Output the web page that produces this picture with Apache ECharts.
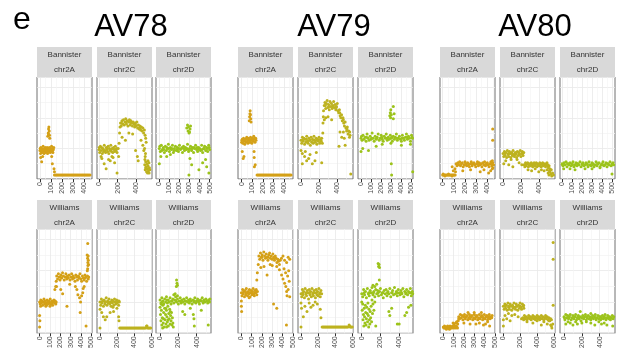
<!DOCTYPE html>
<html>
<head>
<meta charset="utf-8">
<script src="https://cdn.jsdelivr.net/npm/echarts@6/dist/echarts.min.js"></script>
<style>
  html, body { margin: 0; padding: 0; background: #fff; }
  #chart { width: 622px; height: 351px; }
</style>
</head>
<body>
<div id="chart"></div>
<script>
const FONT = '"Liberation Sans", Arial, sans-serif'

const cultivars = ['AV78', 'AV79', 'AV80']
const varieties = ['Bannister', 'Williams']
const chromosomes = ['chr2A', 'chr2C', 'chr2D']
const chromColors = ['#d4a017', '#bdb21f', '#9cc31b']

// tick labels
const ticks400 = [0, 100, 200, 300, 400]
const ticks500 = [0, 100, 200, 300, 400, 500]
const ticks400by200 = [0, 200, 400]
const ticks600by200 = [0, 200, 400, 600]

// x extents, order: AV78 2A,2C,2D, AV79 2A,2C,2D, AV80 2A,2C,2D
const xRangeBannister = [[-27, 468], [-22, 568], [-33, 513], [-34, 483], [-33, 577], [-30, 515], [-24, 469], [-34, 582], [-20, 530]]
const xRangeWilliams = [[-25, 505], [-35, 603], [-44, 556], [-33, 502], [-35, 605], [-40, 548], [-32, 502], [-40, 612], [-45, 571]]
const xTicksBannister = [ticks400, ticks400by200, ticks500, ticks400, ticks400by200, ticks500, ticks400, ticks400by200, ticks500]
const xTicksWilliams = [ticks500, ticks600by200, ticks400by200, ticks500, ticks600by200, ticks400by200, ticks500, ticks600by200, ticks400by200]

// points as flat x,y lists (y on a 0-100 relative scale)
const av78Bannister2A = [0,28, 5,25, 8,31, 12,27, 16,30, 20,26, 24,29, 28,32, 32,27, 36,25, 40,30, 44,28, 48,31, 52,26, 56,29, 60,27, 64,31, 68,25, 72,29, 76,30, 80,27, 84,31, 88,28, 92,26, 96,30, 100,28, 104,32, 108,27, 112,30, 116,26, 120,29, 124,31, 2,30, 18,28, 34,29, 50,28, 66,28, 82,29, 98,27, 114,28,
  70,42, 74,45, 77,49, 80,51, 83,47, 86,43, 88,40, 76,44,
  6,21, 15,17, 24,22, 105,22, 111,15, 126,10, 130,7,
  130,4, 140,4, 150,4, 160,4, 170,4, 180,4, 190,4, 200,4, 210,4, 220,4, 230,4, 240,4, 250,4, 260,4, 270,4, 280,4, 290,4, 300,4, 310,4, 320,4, 330,4, 340,4, 350,4, 360,4, 370,4, 380,4, 390,4, 400,4, 410,4, 420,4, 430,4, 440,4, 450,4]
const av78Bannister2C = [0,29, 7,26, 14,32, 21,28, 28,31, 35,25, 42,30, 49,27, 56,33, 63,28, 70,26, 77,31, 84,29, 91,27, 98,32, 105,25, 112,30, 119,28, 126,33, 133,27, 140,30, 147,26, 154,31, 161,29, 168,27, 175,32, 182,28, 189,30, 193,26, 3,31, 45,29, 88,30, 130,29, 172,29,
  22,22, 55,15, 76,10, 102,19, 138,22, 167,16, 193,6, 30,20, 120,18, 150,21,
  210,22, 215,35, 220,45, 225,51, 205,30,
  230,55, 238,52, 246,57, 254,54, 262,58, 270,53, 278,56, 286,59, 294,54, 302,57, 310,52, 318,56, 326,58, 334,53, 342,57, 350,55, 358,52, 366,56, 374,54, 382,51, 390,55, 398,52, 406,56, 414,50, 422,53, 430,49, 438,52, 446,48, 454,51, 462,47, 470,50, 478,45, 486,48, 494,43, 500,40, 505,36, 240,55, 290,56, 340,55, 390,53, 440,50,
  247,41, 283,38, 320,45, 360,44, 392,28, 411,22, 420,18, 450,38, 470,33, 488,30, 498,25, 480,28, 495,22,
  490,14, 495,9, 500,17, 505,12, 510,7, 515,15, 520,10, 525,13, 530,8, 535,16, 540,11, 545,9, 500,11, 512,10, 525,18, 537,6, 492,19, 520,6]
const av78Bannister2D = [0,30, 10,27, 20,33, 30,29, 40,31, 50,26, 60,32, 70,28, 80,30, 90,34, 100,27, 110,31, 120,29, 130,33, 140,26, 150,30, 160,32, 170,28, 180,31, 190,27, 200,33, 210,29, 220,30, 230,26, 240,32, 250,28, 260,31, 270,29, 280,34, 290,27, 300,30, 310,32, 320,28, 330,31, 340,26, 350,30, 360,33, 370,29, 380,27, 390,31, 400,30, 410,28, 420,33, 430,26, 440,30, 450,32, 460,28, 470,31, 480,27, 490,33, 500,29,
  5,32, 45,29, 95,30, 145,28, 195,30, 245,30, 295,29, 345,31, 395,29, 445,30, 495,31, 25,28, 75,31, 125,30, 175,29, 225,31, 275,30, 325,30, 375,31, 425,29, 475,30,
  272,50, 280,53, 285,47, 290,51, 295,45, 305,49, 310,52, 300,46,
  0,15, 73,22, 304,20, 321,14, 294,4, 393,9, 459,19, 492,6, 430,16, 15,22, 110,24, 470,12]
const av79Bannister2A = [0,36, 6,39, 12,35, 18,40, 24,37, 30,34, 36,39, 42,36, 48,41, 54,37, 60,35, 66,40, 72,38, 78,36, 84,41, 90,38, 96,35, 102,40, 108,37, 114,42, 120,39, 126,36, 132,40, 135,38, 3,38, 27,38, 51,39, 75,39, 99,38, 123,40,
  72,57, 75,61, 78,64, 80,67, 83,63, 86,59, 89,56,
  6,27, 15,20, 22,22, 117,27, 118,21, 120,12, 128,14,
  145,4, 155,4, 165,4, 175,4, 185,4, 195,4, 205,4, 215,4, 225,4, 235,4, 245,4, 255,4, 265,4, 275,4, 285,4, 295,4, 305,4, 315,4, 325,4, 335,4, 345,4, 355,4, 365,4, 375,4, 385,4, 395,4, 405,4, 415,4, 425,4, 435,4, 445,4, 455,4, 465,4]
const av79Bannister2C = [0,38, 8,35, 16,41, 24,37, 32,40, 40,34, 48,39, 56,36, 64,42, 72,37, 80,35, 88,40, 96,38, 104,33, 112,41, 120,36, 128,39, 136,35, 144,42, 152,38, 160,36, 168,40, 176,34, 184,39, 192,37, 200,41, 208,35, 216,39, 224,37, 230,40, 20,38, 60,39, 100,38, 140,38, 180,38, 220,38,
  0,28, 15,25, 48,27, 15,15, 63,18, 85,20, 100,24, 126,15, 155,18, 170,26, 230,16, 40,22,
  237,35, 244,55, 248,61, 242,45,
  250,67, 258,72, 266,75, 274,69, 282,74, 290,77, 298,70, 306,73, 314,68, 322,76, 330,71, 338,74, 346,69, 354,72, 362,76, 370,70, 378,73, 386,68, 394,71, 402,74, 410,67, 418,65, 426,68, 434,62, 442,60, 450,63, 458,57, 466,60, 474,55, 482,52, 490,56, 498,50, 506,47, 514,51, 522,44, 530,47, 538,41, 544,43, 270,72, 310,71, 350,71, 390,70, 430,65, 470,58, 510,49, 540,46,
  259,58, 275,60, 300,61, 340,58, 433,46, 452,41, 470,46, 422,32, 490,33, 552,5, 480,40]
const av79Bannister2D = [0,40, 10,38, 20,43, 30,39, 40,41, 50,37, 60,44, 70,40, 80,38, 90,42, 100,39, 110,45, 120,40, 130,37, 140,42, 150,39, 160,41, 170,44, 180,38, 190,40, 200,43, 210,39, 220,37, 230,42, 240,40, 250,44, 260,38, 270,41, 280,39, 290,43, 300,40, 310,37, 320,42, 330,39, 340,41, 350,44, 360,38, 370,40, 380,42, 390,39, 400,37, 410,43, 420,40, 430,38, 440,41, 450,44, 460,39, 470,42, 480,40, 490,37, 500,43, 510,40,
  5,42, 55,41, 105,40, 155,40, 205,41, 255,40, 305,41, 355,40, 405,40, 455,41, 505,41,
  285,62, 290,65, 295,68, 293,60, 320,71, 320,59, 328,64, 300,63,
  0,27, 17,30, 74,28, 150,32, 210,34, 296,35, 300,15, 303,4, 400,33, 490,34, 512,7]
const av80Bannister2A = [0,4, 8,4, 16,4, 24,4, 32,4, 40,4, 48,4, 56,4, 64,4, 72,4, 80,4, 88,4, 96,4, 104,4, 112,4, 4,5, 20,3, 52,5, 84,3,
  85,12, 95,8, 110,10, 115,7,
  120,15, 128,13, 136,16, 144,14, 152,17, 160,13, 168,15, 176,16, 184,12, 192,14, 200,17, 208,15, 216,13, 224,16, 232,14, 240,12, 248,15, 256,17, 264,13, 272,15, 280,16, 288,14, 296,12, 304,15, 312,17, 320,13, 328,16, 336,14, 344,15, 352,12, 360,16, 368,14, 376,17, 384,13, 392,15, 400,16, 408,14, 416,12, 424,15, 432,17, 440,13, 448,16, 456,14, 140,15, 200,14, 260,15, 320,15, 380,14, 440,15, 445,18, 450,11,
  180,8, 250,9, 336,7, 370,9, 412,6, 430,8, 445,10,
  448,49, 448,38]
const av80Bannister2C = [0,25, 8,22, 16,27, 24,23, 32,26, 40,21, 48,28, 56,24, 64,22, 72,27, 80,25, 88,21, 96,26, 104,23, 112,28, 120,24, 128,22, 136,26, 144,25, 152,21, 160,27, 168,23, 176,26, 184,24, 192,28, 200,22, 208,25, 216,27, 224,23, 232,26, 20,25, 60,25, 100,25, 140,24, 180,25, 220,25,
  8,15, 30,18, 64,14, 90,19, 110,12, 157,19, 180,16, 210,14,
  236,14, 244,12, 252,16, 260,13, 268,15, 276,16, 284,12, 292,14, 300,15, 308,13, 316,16, 324,14, 332,12, 340,15, 348,16, 356,13, 364,14, 372,16, 380,12, 388,15, 396,14, 404,13, 412,16, 420,14, 428,12, 436,15, 444,16, 452,13, 460,14, 468,15, 476,12, 484,14, 492,16, 500,13, 508,11, 516,13, 524,10, 250,14, 300,14, 350,14, 400,14, 450,14, 500,14,
  493,9, 505,6, 515,4, 525,7, 535,5, 545,3, 555,6, 565,4, 540,9, 520,8,
  280,9, 320,8, 360,10, 400,7, 430,9, 460,8]
const av80Bannister2D = [0,15, 10,13, 20,16, 30,14, 40,17, 50,12, 60,15, 70,14, 80,16, 90,13, 100,15, 110,17, 120,12, 130,14, 140,16, 150,13, 160,15, 170,14, 180,17, 190,12, 200,15, 210,16, 220,13, 230,14, 240,16, 250,15, 260,12, 270,17, 280,14, 290,13, 300,16, 310,15, 320,12, 330,14, 340,17, 350,13, 360,15, 370,16, 380,12, 390,14, 400,15, 410,17, 420,13, 430,14, 440,16, 450,12, 460,15, 470,14, 480,17, 490,13, 500,15, 510,16, 517,14,
  5,14, 55,15, 105,14, 155,15, 205,14, 255,14, 305,14, 355,15, 405,14, 455,15, 505,14,
  17,10, 80,10, 130,9, 230,10, 300,10, 380,11, 500,5]

const av78Williams2A = [0,30, 6,28, 12,32, 18,29, 24,31, 30,27, 36,30, 42,33, 48,28, 54,31, 60,29, 66,27, 72,32, 78,30, 84,28, 90,31, 96,29, 102,33, 108,28, 114,30, 120,31, 126,27, 132,30, 138,32, 144,29, 150,31, 156,28, 160,30, 9,30, 45,30, 81,30, 117,29, 147,30,
  0,17, 3,12, 0,6, 10,26, 100,26, 60,26,
  147,42, 155,45, 160,50,
  165,55, 173,52, 181,57, 189,54, 197,51, 205,56, 213,53, 221,58, 229,55, 237,51, 245,54, 253,57, 261,52, 269,55, 277,53, 285,56, 293,51, 301,54, 309,57, 317,52, 325,55, 333,53, 341,50, 349,56, 357,54, 365,51, 373,55, 381,53, 389,57, 397,52, 405,50, 413,55, 421,53, 429,51, 437,56, 445,54, 453,50, 461,55, 469,52, 473,54, 200,54, 260,54, 320,54, 380,54, 440,53,
  163,45, 204,42, 222,38, 290,47, 264,26, 345,45, 359,42, 369,37, 385,34, 395,30, 416,39, 420,43, 430,45, 391,20, 448,7, 405,36,
  458,75, 462,72, 465,68, 468,74, 470,70, 463,62, 460,60, 466,65, 472,66, 464,86]
const av78Williams2C = [0,30, 8,27, 16,33, 24,29, 32,31, 40,26, 48,32, 56,28, 64,30, 72,34, 80,27, 88,31, 96,29, 104,33, 112,28, 120,30, 128,26, 136,32, 144,29, 152,31, 160,27, 168,33, 176,30, 184,28, 192,32, 200,29, 208,31, 216,27, 224,30, 20,30, 60,30, 100,30, 140,30, 180,30, 220,31,
  0,5, 0,23, 20,20, 39,16, 60,13, 78,16, 117,20, 157,21, 196,24, 216,16, 220,12, 150,25,
  228,5, 240,5, 252,5, 264,5, 276,5, 288,5, 300,5, 312,5, 324,5, 336,5, 348,5, 360,5, 372,5, 384,5, 396,5, 408,5, 420,5, 432,5, 444,5, 456,5, 468,5, 480,5, 492,5, 504,5, 516,5, 528,5, 540,7, 545,7, 552,5, 564,5, 576,5, 588,5]
const av78Williams2D = [0,25, 5,18, 10,12, 15,22, 20,8, 25,15, 30,27, 35,10, 40,20, 45,6, 50,24, 55,13, 60,18, 65,9, 70,22, 75,16, 80,11, 85,26, 90,7, 95,19, 100,14, 105,23, 110,9, 115,17, 120,12, 125,20, 130,8, 140,10, 145,6, 12,28, 38,14, 62,24, 88,13, 112,21, 135,15, 28,5, 72,6,
  0,32, 10,29, 20,34, 30,31, 40,28, 50,33, 60,30, 70,35, 80,29, 90,32, 100,30, 110,34, 120,28, 130,31, 140,33, 150,29, 160,32, 170,35, 180,30, 190,33, 200,28, 210,31, 220,34, 230,29, 240,32, 250,30, 260,33, 270,28, 280,31, 290,34, 300,30, 310,32, 320,29, 330,33, 340,31, 350,28, 360,32, 370,30, 380,34, 390,29, 400,31, 410,33, 420,30, 430,28, 440,32, 450,31, 460,34, 470,29, 480,32, 490,30, 500,33, 510,31, 520,29, 530,32, 540,30, 545,33,
  25,30, 75,32, 125,31, 175,31, 225,31, 275,31, 325,31, 375,31, 425,31, 475,31, 525,31,
  150,37, 165,38, 190,36,
  180,51, 185,48, 190,46, 178,45,
  247,21, 270,18, 363,18, 370,14, 374,7, 526,8, 330,24, 450,22]
const av79Williams2A = [0,39, 6,36, 12,42, 18,38, 24,40, 30,35, 36,41, 42,37, 48,43, 54,39, 60,36, 66,40, 72,38, 78,42, 84,35, 90,39, 96,41, 102,37, 108,40, 114,43, 120,38, 126,36, 132,41, 138,39, 144,42, 150,37, 156,40, 15,39, 45,39, 75,39, 105,39, 135,39,
  0,31, 0,26, 2,21, 75,34,
  150,51, 155,58, 164,66,
  170,74, 178,71, 186,77, 194,73, 202,75, 210,70, 218,78, 226,74, 234,72, 242,76, 250,73, 258,70, 266,75, 274,77, 282,72, 290,74, 298,71, 306,76, 314,73, 322,70, 330,74, 338,72, 346,68, 354,71, 362,69, 370,66, 378,70, 390,72, 405,74, 420,70, 440,68, 455,73, 470,71, 200,73, 260,73, 320,72, 360,70,
  344,64, 370,61, 391,56, 405,52, 420,48, 432,45, 440,40, 444,36, 450,55, 460,60, 455,42, 465,50, 470,35, 430,58, 415,62,
  189,63, 220,64, 250,56, 313,28, 344,24, 438,8, 280,66, 300,65]
const av79Williams2C = [0,38, 8,35, 16,42, 24,37, 32,40, 40,34, 48,43, 56,38, 64,36, 72,41, 80,39, 88,33, 96,42, 104,37, 112,40, 120,35, 128,43, 136,38, 144,36, 152,41, 160,39, 168,34, 176,42, 184,37, 192,40, 200,36, 208,43, 216,38, 224,35, 232,41, 240,38, 20,39, 60,39, 100,39, 140,39, 180,39, 220,39,
  0,29, 6,24, 27,16, 45,26, 70,21, 95,29, 115,25, 140,27, 165,30, 190,28, 224,23, 232,15, 0,6,
  246,6, 258,6, 270,6, 282,6, 294,6, 306,6, 318,6, 330,6, 342,6, 354,6, 366,6, 378,6, 390,6, 402,6, 414,6, 426,6, 438,6, 450,6, 462,6, 474,6, 486,6, 498,6, 510,6, 522,6, 534,6, 546,6, 560,8, 565,7, 572,6, 584,6, 596,6]
const av79Williams2D = [0,38, 10,35, 20,42, 30,37, 40,40, 50,34, 60,43, 70,38, 80,36, 90,41, 100,39, 110,44, 120,37, 130,40, 140,35, 150,42, 160,38, 170,41, 180,36, 190,40, 200,43, 210,37, 220,39, 230,34, 240,41, 250,38, 260,42, 270,36, 280,40, 290,38, 300,43, 310,35, 320,39, 330,41, 340,37, 350,44, 360,38, 370,40, 380,36, 390,42, 400,39, 410,37, 420,41, 430,38, 440,43, 450,35, 460,40, 470,38, 480,42, 490,37, 500,40, 510,39, 520,43, 530,36, 540,40, 545,38,
  25,39, 75,39, 125,39, 175,39, 225,39, 275,39, 325,39, 375,39, 425,39, 475,39, 525,39,
  0,30, 5,22, 10,28, 14,13, 18,18, 22,7, 26,24, 30,16, 34,10, 38,27, 42,20, 46,8, 50,14, 54,25, 58,19, 62,11, 66,29, 70,17, 74,6, 78,23, 82,13, 86,9, 90,21, 95,15, 100,26, 105,11, 110,32, 115,19, 120,28, 130,22, 140,30, 150,7,
  120,46, 140,45, 160,47,
  175,67, 180,64, 185,66, 190,63, 188,51,
  290,21, 300,17, 320,24, 380,9, 400,9, 461,17, 480,20, 500,25, 525,27]
const av80Williams2A = [0,6, 6,5, 12,7, 18,5, 24,6, 30,4, 36,6, 42,7, 48,5, 54,6, 60,4, 66,7, 72,5, 78,6, 84,5, 90,7, 96,6, 102,5, 108,7, 114,6, 120,5, 126,7, 132,6, 138,5,
  95,10, 105,9, 120,10, 130,11, 140,9,
  145,12, 150,14,
  150,16, 158,14, 166,18, 174,15, 182,17, 190,13, 198,16, 206,18, 214,14, 222,16, 230,17, 238,13, 246,15, 254,18, 262,14, 270,16, 278,17, 286,13, 294,15, 302,18, 310,14, 318,16, 326,17, 334,13, 342,15, 350,18, 358,14, 366,16, 374,17, 382,13, 390,15, 398,18, 406,14, 414,16, 422,17, 430,13, 438,15, 446,18, 454,14, 462,16, 470,15, 474,17, 200,16, 260,16, 320,16, 380,16, 440,16,
  240,20, 300,20, 370,20,
  200,10, 260,9, 317,9, 350,10, 390,8, 410,9, 430,11, 450,7]
const av80Williams2C = [0,26, 9,23, 18,28, 27,24, 36,27, 45,22, 54,29, 63,25, 72,23, 81,28, 90,26, 99,22, 108,27, 117,24, 126,29, 135,25, 144,23, 153,28, 162,26, 171,22, 180,27, 189,24, 198,29, 207,25, 216,23, 225,28, 234,26, 243,24, 20,26, 65,26, 110,26, 155,26, 200,26, 240,27,
  0,13, 0,7, 20,17, 40,14, 60,19, 80,12, 100,17, 135,18, 175,16, 215,14,
  230,15, 240,13, 250,17, 260,14, 270,16, 280,13, 290,15, 300,17, 310,14, 320,16, 330,13, 340,15, 350,17, 360,14, 370,16, 380,13, 390,15, 400,17, 410,14, 420,16, 430,13, 440,15, 450,17, 460,14, 470,16, 480,13, 490,15, 500,17, 510,14, 520,16, 530,13, 540,15, 550,12, 560,14, 570,13, 260,15, 340,15, 420,15, 500,15,
  280,11, 350,10, 400,12, 450,8, 480,11, 520,9, 540,12, 560,8, 570,7, 575,5, 585,9,
  590,87, 590,71, 590,27]
const av80Williams2D = [0,16, 10,13, 20,18, 30,15, 40,17, 50,14, 60,16, 70,18, 80,13, 90,15, 100,17, 110,14, 120,16, 130,18, 140,13, 150,15, 160,17, 170,14, 180,16, 190,12, 200,15, 210,17, 220,14, 230,16, 240,18, 250,13, 260,15, 270,17, 280,14, 290,16, 300,13, 310,15, 320,17, 330,14, 340,16, 350,18, 360,13, 370,15, 380,17, 390,14, 400,16, 410,13, 420,15, 430,17, 440,14, 450,16, 460,18, 470,13, 480,15, 490,17, 500,14, 510,16, 520,13, 530,15, 540,17, 550,14, 557,16,
  5,15, 55,15, 105,15, 155,16, 205,15, 255,16, 305,15, 355,15, 405,16, 455,15, 505,15,
  20,9, 45,11, 70,10, 100,8, 130,11, 150,9, 200,10, 250,11, 300,10, 345,8, 390,11, 420,9, 450,10, 480,8, 545,7,
  182,21, 300,19]

const bannisterPanels = [av78Bannister2A, av78Bannister2C, av78Bannister2D, av79Bannister2A, av79Bannister2C, av79Bannister2D, av80Bannister2A, av80Bannister2C, av80Bannister2D]
const williamsPanels = [av78Williams2A, av78Williams2C, av78Williams2D, av79Williams2A, av79Williams2C, av79Williams2D, av80Williams2A, av80Williams2C, av80Williams2D]

// layout
const colLeft = [37, 97, 156, 238, 298, 358, 440, 500, 560]
const panelW = 55
const rowTop = [77, 229]
const rowH = [102, 105]
const stripTop = [47, 200]
const titleX = [131, 334, 535]

const pairs = flat => {
  const out = []
  for (let i = 0; i < flat.length; i += 2) out.push([flat[i], flat[i + 1]])
  return out
}
const minorsOf = ticks => {
  const step = ticks[1] - ticks[0]
  const out = []
  for (let i = 0; i <= ticks.length; i++) out.push(ticks[0] + step * i - step / 2)
  return out
}

const grids = [], xAxes = [], yAxes = [], series = [], graphics = []

graphics.push({ type: 'text', left: 13, top: 4, style: { text: 'e', font: `32px ${FONT}`, fill: '#000' } })
cultivars.forEach((c, k) => {
  graphics.push({ type: 'text', x: titleX[k], y: 27, style: { text: c, font: `31px ${FONT}`, fill: '#000', textAlign: 'center', textVerticalAlign: 'middle' } })
})

varieties.forEach((v, r) => {
  const panels = r === 0 ? bannisterPanels : williamsPanels
  const ranges = r === 0 ? xRangeBannister : xRangeWilliams
  const ticks = r === 0 ? xTicksBannister : xTicksWilliams
  for (let p = 0; p < 9; p++) {
    const g = grids.length
    const chrom = p % 3
    grids.push({
      left: colLeft[p], top: rowTop[r], width: panelW, height: rowH[r],
      show: true, backgroundColor: '#fff', borderColor: '#707070', borderWidth: 1,
    })
    const [xmin, xmax] = ranges[p]
    xAxes.push({
      type: 'value', gridIndex: g, min: xmin, max: xmax,
      axisLine: { show: false },
      axisTick: { show: true, length: 3, lineStyle: { color: '#333' }, customValues: ticks[p] },
      axisLabel: { show: true, customValues: ticks[p], rotate: 90, fontSize: 7, color: '#4d4d4d', fontFamily: FONT, margin: 3 },
      splitLine: { show: true, lineStyle: { color: '#e8e8e8', width: 0.8 } },
    })
    xAxes.push({
      type: 'value', gridIndex: g, min: xmin, max: xmax, position: 'top',
      axisLine: { show: false },
      axisTick: { show: false, customValues: minorsOf(ticks[p]) },
      axisLabel: { show: false },
      splitLine: { show: true, lineStyle: { color: '#f4f4f4', width: 0.6 } },
    })
    yAxes.push({
      type: 'value', gridIndex: g, min: 0, max: 100, interval: 15,
      axisLine: { show: false }, axisTick: { show: false }, axisLabel: { show: false },
      splitLine: { show: true, lineStyle: { color: ['#e8e8e8', '#f4f4f4'], width: 0.8 } },
    })
    series.push({
      type: 'scatter', xAxisIndex: 2 * g, yAxisIndex: g,
      data: pairs(panels[p]), symbolSize: 3,
      itemStyle: { color: chromColors[chrom], opacity: 1 },
      silent: true,
    })
    // strip
    graphics.push({ type: 'rect', shape: { x: colLeft[p], y: stripTop[r], width: panelW, height: rowTop[r] - stripTop[r] }, style: { fill: '#d9d9d9' } })
    const cx = colLeft[p] + panelW / 2
    const sh = rowTop[r] - stripTop[r]
    graphics.push({ type: 'text', x: cx, y: stripTop[r] + sh * 0.26, style: { text: v, font: `8px ${FONT}`, fill: '#333', textAlign: 'center', textVerticalAlign: 'middle' } })
    graphics.push({ type: 'text', x: cx, y: stripTop[r] + sh * 0.77, style: { text: chromosomes[chrom], font: `8px ${FONT}`, fill: '#333', textAlign: 'center', textVerticalAlign: 'middle' } })
  }
})

const chart = echarts.init(document.getElementById('chart'), null, { renderer: 'canvas' })
chart.setOption({
  backgroundColor: '#fff',
  animation: false,
  grid: grids,
  xAxis: xAxes,
  yAxis: yAxes,
  series,
  graphic: graphics,
})
</script>
</body>
</html>
